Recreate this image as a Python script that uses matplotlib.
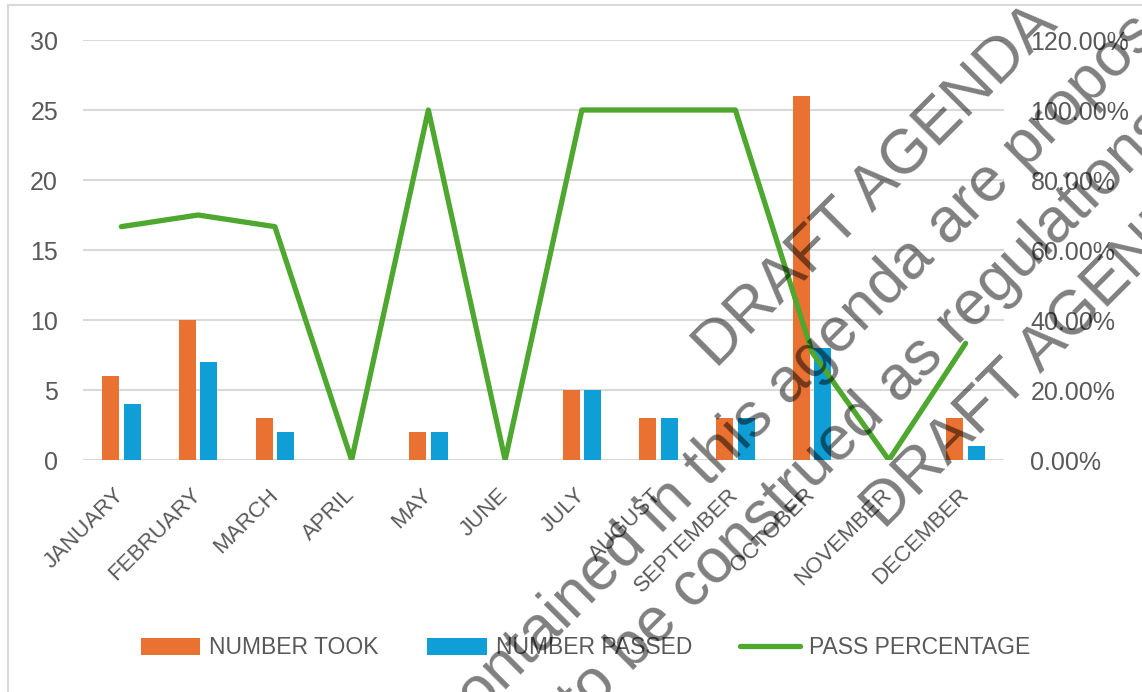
import matplotlib
matplotlib.use("Agg")
import matplotlib.pyplot as plt
import numpy as np
from matplotlib.patches import Rectangle, Patch
from matplotlib.lines import Line2D

plt.rcParams['font.family'] = ['Liberation Sans', 'DejaVu Sans']

# ---- data ----
months = ["JANUARY", "FEBRUARY", "MARCH", "APRIL", "MAY", "JUNE", "JULY",
          "AUGUST", "SEPTEMBER", "OCTOBER", "NOVEMBER", "DECEMBER"]
number_took = [6, 10, 3, 0, 2, 0, 5, 3, 3, 26, 0, 3]
number_passed = [4, 7, 2, 0, 2, 0, 5, 3, 3, 8, 0, 1]
pass_percentage = [0.6667, 0.70, 0.6667, 0.0, 1.0, 0.0, 1.0, 1.0, 1.0, 0.3077, 0.0, 0.3333]
left_ticks = [0, 5, 10, 15, 20, 25, 30]
right_ticks = [0.0, 0.2, 0.4, 0.6, 0.8, 1.0, 1.2]
series_names = ["NUMBER TOOK", "NUMBER PASSED", "PASS PERCENTAGE"]
watermark_lines = ["DRAFT AGENDA",
                   "contained in this agenda are proposals",
                   "to be construed as regulations",
                   "DRAFT AGENDA"]

C_TOOK = "#E97132"
C_PASSED = "#0F9ED5"
C_PCT = "#4EA72E"
C_TEXT = "#595959"
C_GRID = "#D9D9D9"

W, H = 1142, 692
fig = plt.figure(figsize=(W / 100, H / 100), dpi=100)

# outer chart border
fig.patches.append(Rectangle((8 / W, -0.2), 2, 1 - 5 / H + 0.2, transform=fig.transFigure,
                             fill=False, edgecolor=C_GRID, lw=1.5, zorder=0))

ax = fig.add_axes([83 / W, 1 - 460 / H, (1004 - 83) / W, 420 / H])
x = np.arange(len(months))
bw = 0.22
ax.bar(x - 0.14, number_took, bw, color=C_TOOK, zorder=2)
ax.bar(x + 0.14, number_passed, bw, color=C_PASSED, zorder=2)
ax.set_xlim(-0.5, len(months) - 0.5)
ax.set_ylim(0, 30)
ax.set_yticks(left_ticks)
ax.yaxis.grid(True, color=C_GRID, lw=1.5, zorder=0)
ax.set_axisbelow(True)
for s in ax.spines.values():
    s.set_visible(False)
ax.tick_params(axis='y', length=0, colors=C_TEXT, labelsize=18, pad=18)
ax.set_xticks(x)
ax.set_xticklabels(months, rotation=45, ha='right', va='center', rotation_mode='anchor')
ax.tick_params(axis='x', length=0, colors=C_TEXT, labelsize=16, pad=23)

ax2 = ax.twinx()
ax2.plot(x, pass_percentage, color=C_PCT, lw=3.8, solid_capstyle='round',
         solid_joinstyle='round', zorder=3)
ax2.set_ylim(0, 1.2)
ax2.set_yticks(right_ticks)
ax2.set_yticklabels([f"{v * 100:.2f}%" for v in right_ticks])
for s in ax2.spines.values():
    s.set_visible(False)
ax2.tick_params(axis='y', length=0, colors=C_TEXT, labelsize=18, pad=19)

handles = [Patch(facecolor=C_TOOK), Patch(facecolor=C_PASSED),
           Line2D([], [], color=C_PCT, lw=3.8, solid_capstyle='round')]
fig.legend(handles, series_names, loc='center', bbox_to_anchor=(585.5 / W, 1 - 648 / H),
           ncol=3, frameon=False, fontsize=16.5, handlelength=2.6, handleheight=0.75,
           handletextpad=0.4, columnspacing=2.1, labelcolor=C_TEXT)

# watermark
wm_pos = [(717, 370), (457, 739), (582, 722), (885, 531)]
for (px, py), s in zip(wm_pos, watermark_lines):
    fig.text(px / W, 1 - py / H, s, rotation=45, rotation_mode='anchor', ha='left',
             va='baseline', fontsize=45, color=(0, 0, 0, 0.5), zorder=10)

fig.savefig("out.png", dpi=100)
